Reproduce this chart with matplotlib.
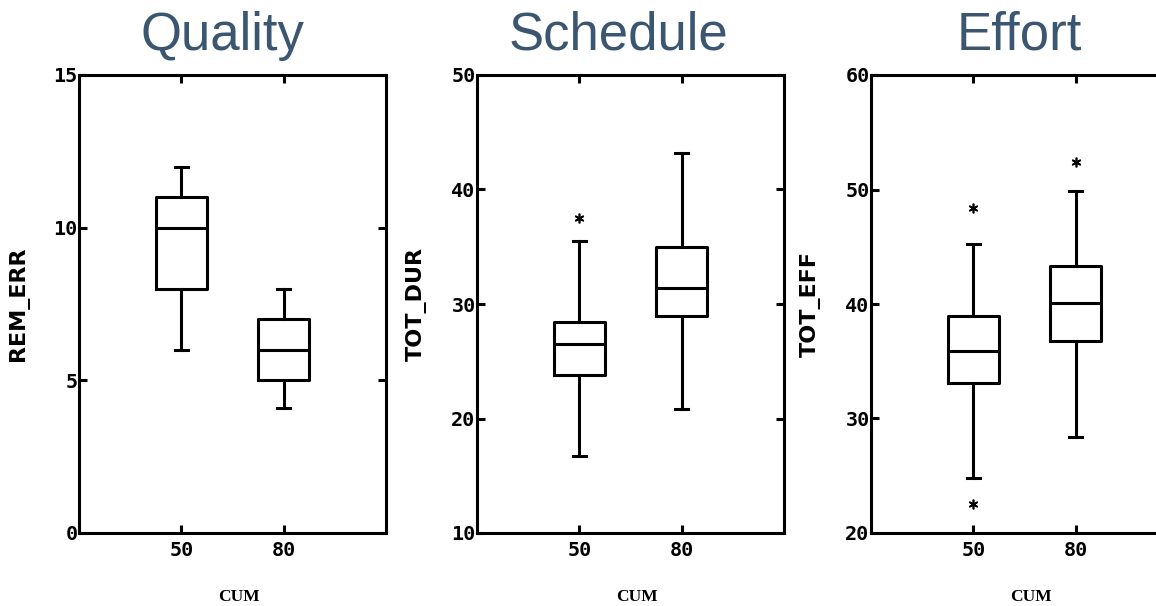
import matplotlib
matplotlib.use('Agg')
import matplotlib.pyplot as plt

# categories on the x axis (CUM)
categories = ['50', '80']

# Quality: REM_ERR
quality_q1 = [8.0, 5.0]
quality_med = [10.0, 6.0]
quality_q3 = [11.0, 7.0]
quality_lo = [6.0, 4.1]
quality_hi = [12.0, 8.0]
quality_out = [[], []]

# Schedule: TOT_DUR
schedule_q1 = [23.8, 28.95]
schedule_med = [26.5, 31.4]
schedule_q3 = [28.4, 35.0]
schedule_lo = [16.7, 20.8]
schedule_hi = [35.5, 43.2]
schedule_out = [[37.5], []]

# Effort: TOT_EFF
effort_q1 = [33.1, 36.8]
effort_med = [35.9, 40.1]
effort_q3 = [38.95, 43.3]
effort_lo = [24.8, 28.4]
effort_hi = [45.2, 49.9]
effort_out = [[48.4, 22.5], [52.4]]

titles = ['Quality', 'Schedule', 'Effort']
ylabels = ['REM_ERR', 'TOT_DUR', 'TOT_EFF']
yticks = [[0, 5, 10, 15], [10, 20, 30, 40, 50], [20, 30, 40, 50, 60]]

title_color = '#3b5670'
lw = 2.2


def make_stats(q1, med, q3, lo, hi, out):
    stats = []
    for i in range(len(q1)):
        stats.append({'q1': q1[i], 'med': med[i], 'q3': q3[i],
                      'whislo': lo[i], 'whishi': hi[i], 'fliers': out[i]})
    return stats


panels = [
    make_stats(quality_q1, quality_med, quality_q3, quality_lo, quality_hi, quality_out),
    make_stats(schedule_q1, schedule_med, schedule_q3, schedule_lo, schedule_hi, schedule_out),
    make_stats(effort_q1, effort_med, effort_q3, effort_lo, effort_hi, effort_out),
]

fig = plt.figure(figsize=(11.56, 6.06), dpi=100)
lefts = [79, 477, 871]
title_x = [222, 618, 1019]

for k, stats in enumerate(panels):
    ax = fig.add_axes([lefts[k] / 1156, 1 - 533 / 606, 307 / 1156, 458 / 606])
    ax.bxp(stats, positions=[1, 2], widths=0.5, capwidths=0.13,
           boxprops=dict(color='black', linewidth=lw),
           medianprops=dict(color='black', linewidth=lw),
           whiskerprops=dict(color='black', linewidth=lw),
           capprops=dict(color='black', linewidth=lw),
           flierprops=dict(marker=(6, 2, 0), markersize=7, markeredgecolor='black',
                           markeredgewidth=1.2, linestyle='none'))
    ax.set_xlim(0, 3)
    ax.set_ylim(yticks[k][0], yticks[k][-1])
    ax.set_yticks(yticks[k])
    ax.set_xticks([1, 2])
    ax.set_xticklabels(categories)
    for s in ax.spines.values():
        s.set_linewidth(lw)
    ax.tick_params(direction='in', length=6, width=lw, top=True, right=True)
    ax.tick_params(axis='y', pad=1)
    ax.tick_params(axis='x', pad=6)
    for lab in ax.get_xticklabels() + ax.get_yticklabels():
        lab.set_family('DejaVu Sans Mono')
        lab.set_fontweight('bold')
        lab.set_fontsize(14.5)
    ax.set_xlabel('CUM', family='Liberation Serif', fontweight='bold', fontsize=12.5)
    ax.xaxis.set_label_coords(0.52, -0.122)
    ax.set_ylabel(ylabels[k], family='DejaVu Sans', fontweight='bold', fontsize=16)
    ax.yaxis.set_label_coords(-0.162, 0.5)
    fig.text(title_x[k] / 1156, 1 - 36 / 606, titles[k], ha='center', va='center',
             fontsize=38, color=title_color, family='Liberation Sans')

fig.savefig('out.png', dpi=100)
